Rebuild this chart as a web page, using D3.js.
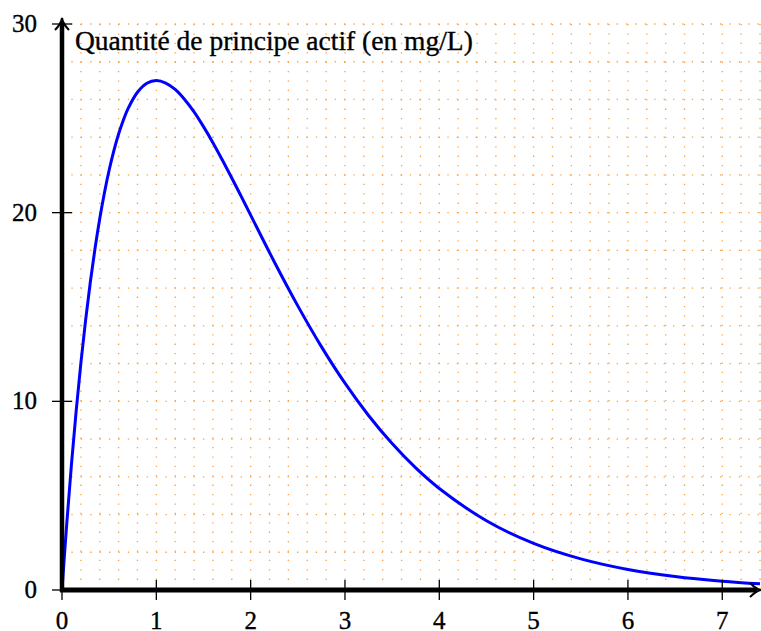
<!DOCTYPE html>
<html>
<head>
<meta charset="utf-8">
<script src="https://cdn.jsdelivr.net/npm/d3@7"></script>
<style>
  body { margin: 0; background: #fff; }
  svg { display: block; }
  text { fill: #000; stroke: #000; stroke-width: 0.35px; }
</style>
</head>
<body>
<div id="chart"></div>
<script>
// time (h) and concentration
const times = [0, 0.05, 0.1, 0.15, 0.2, 0.25, 0.3, 0.35, 0.4, 0.45, 0.5, 0.55, 0.6, 0.65, 0.7, 0.8, 0.9, 1,
    1.1, 1.2, 1.3, 1.4, 1.5, 1.6, 1.7, 1.8, 1.9, 2, 2.25, 2.5, 2.75, 3, 3.25, 3.5, 3.75, 4, 4.5, 5, 5.5, 6, 6.5, 7, 7.4];
const amounts = [0, 3.49, 6.64, 9.48, 12.02, 14.29, 16.31, 18.10, 19.68, 21.06, 22.26, 23.29, 24.17, 24.90, 25.51, 26.38, 26.86, 27.00,
    26.87, 26.53, 26.00, 25.34, 24.56, 23.71, 22.79, 21.84, 20.86, 19.87, 17.40, 15.06, 12.90, 10.96, 9.25, 7.76, 6.47, 5.38, 3.67, 2.47, 1.65, 1.09, 0.72, 0.47, 0.33];
const xTicks = [0, 1, 2, 3, 4, 5, 6, 7];
const yTicks = [0, 10, 20, 30];
const yLabel = "Quantité de principe actif (en mg/L)";

const config = {
    width: 761,
    height: 631,
    x0: 62, x1: 760,
    y0: 590, y1: 24,
    font: "'Liberation Serif', serif",
};

const x = d3.scaleLinear().domain([0, 7.4]).range([config.x0, config.x1]);
const y = d3.scaleLinear().domain([0, 30]).range([config.y0, config.y1]);

const svg = d3.select("#chart").append("svg")
    .attr("width", config.width)
    .attr("height", config.height);

// dotted orange grid
const grid = svg.append("g").attr("stroke", "#f9a040").attr("stroke-width", 1.3);
grid.selectAll(".vg")
    .data(d3.range(1, 38).map(i => i * 0.2))
    .join("line")
    .attr("x1", d => x(d)).attr("x2", d => x(d))
    .attr("y1", y(30)).attr("y2", y(0))
    .attr("stroke-dasharray", "1.3 8.1");
grid.selectAll(".hg")
    .data(d3.range(2, 31, 2))
    .join("line")
    .attr("x1", x(0)).attr("x2", config.width)
    .attr("y1", d => y(d)).attr("y2", d => y(d))
    .attr("stroke-dasharray", "1.3 8.1");

// curve
const line = d3.line()
    .x((d, i) => x(times[i]))
    .y(d => y(d))
    .curve(d3.curveCatmullRom.alpha(0.5));
svg.append("path")
    .datum(amounts)
    .attr("fill", "none")
    .attr("stroke", "#0000ff")
    .attr("stroke-width", 3)
    .attr("stroke-linejoin", "round")
    .attr("d", line);

// axes
const ax = svg.append("g").attr("stroke", "#000");
ax.append("line")
    .attr("x1", x(0) - 2).attr("x2", config.width - 4)
    .attr("y1", y(0)).attr("y2", y(0))
    .attr("stroke-width", 5);
ax.append("line")
    .attr("x1", x(0)).attr("x2", x(0))
    .attr("y1", y(0) + 2).attr("y2", 22)
    .attr("stroke-width", 4.5);
// arrow heads
ax.append("path")
    .attr("d", `M${config.width - 11},${y(0) - 7} Q${config.width - 5},${y(0) - 1} ${config.width},${y(0)} Q${config.width - 5},${y(0) + 1} ${config.width - 11},${y(0) + 7}`)
    .attr("fill", "none").attr("stroke-width", 2);
ax.append("path")
    .attr("d", `M${x(0) - 7},${30} Q${x(0) - 1},${24} ${x(0)},${18} Q${x(0) + 1},${24} ${x(0) + 7},${30}`)
    .attr("fill", "none").attr("stroke-width", 2);

// ticks
ax.selectAll(".xt")
    .data(xTicks)
    .join("line")
    .attr("x1", d => x(d)).attr("x2", d => x(d))
    .attr("y1", y(0) - 10).attr("y2", y(0) + 10)
    .attr("stroke-width", 1.3);
ax.selectAll(".yt")
    .data(yTicks)
    .join("line")
    .attr("x1", x(0) - 10).attr("x2", x(0) + 10)
    .attr("y1", d => y(d)).attr("y2", d => y(d))
    .attr("stroke-width", 1.3);

// tick labels
svg.selectAll(".xl")
    .data(xTicks)
    .join("text")
    .attr("x", d => x(d))
    .attr("y", 629)
    .attr("text-anchor", "middle")
    .style("font", `25px ${config.font}`)
    .text(d => d);
svg.selectAll(".yl")
    .data(yTicks)
    .join("text")
    .attr("x", 37)
    .attr("y", d => y(d) + 8)
    .attr("text-anchor", "end")
    .style("font", `25px ${config.font}`)
    .text(d => d);

svg.append("text")
    .attr("x", 75)
    .attr("y", 50)
    .style("font", `27.5px ${config.font}`)
    .text(yLabel);
</script>
</body>
</html>
